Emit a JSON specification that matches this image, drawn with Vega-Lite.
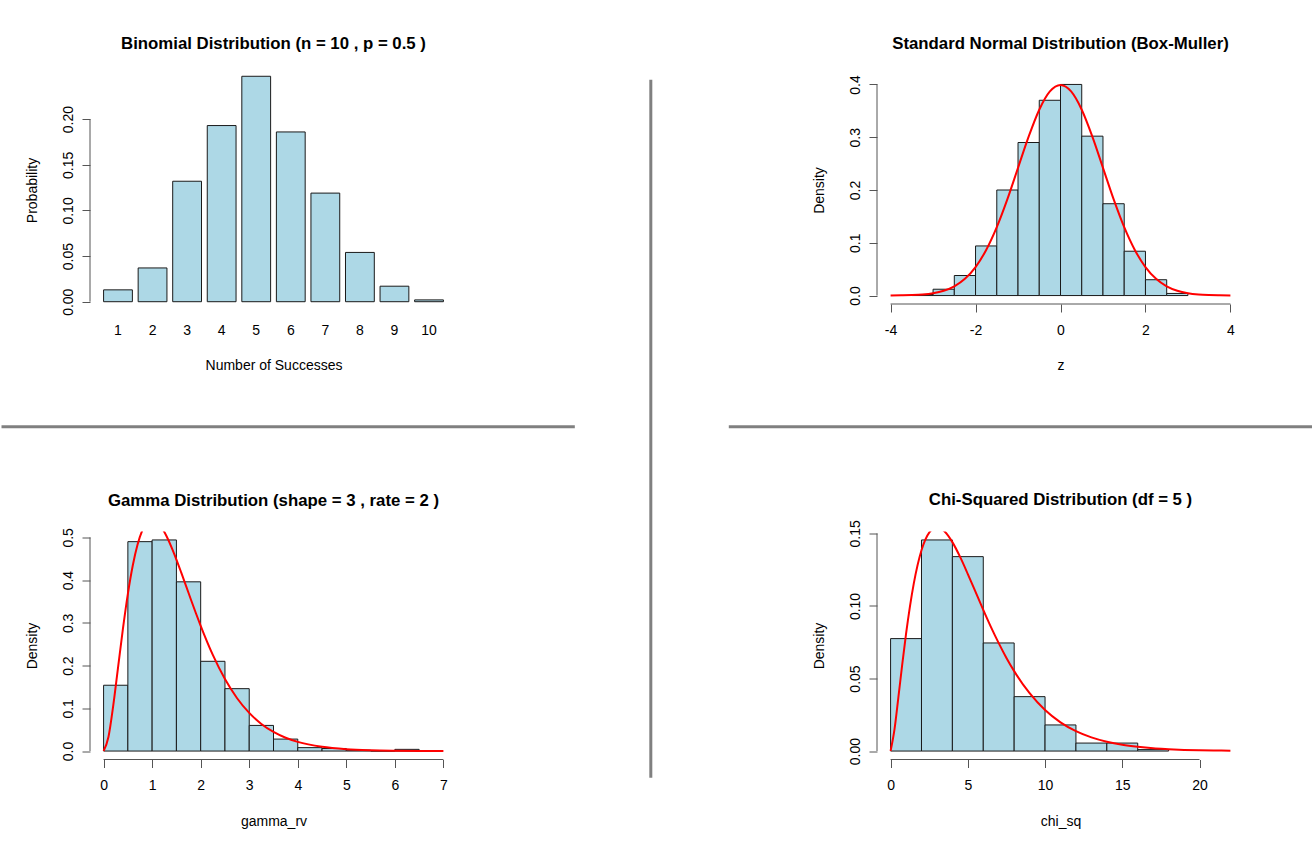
{
  "$schema": "https://vega.github.io/schema/vega-lite/v6.json",
  "background": "white",
  "padding": {"left": 0, "right": 0, "top": 35, "bottom": 12},
  "autosize": {"type": "pad"},
  "config": {
    "view": {"stroke": null},
    "font": "Liberation Sans",
    "axis": {
      "grid": false, "domain": false,
      "labelFont": "Liberation Sans", "labelFontSize": 14, "labelColor": "#000",
      "titleFont": "Liberation Sans", "titleFontSize": 14, "titleFontWeight": "normal", "titleColor": "#000",
      "tickColor": "#555", "tickSize": 8, "tickWidth": 1,
      "labelFlush": false, "labelOverlap": false
    },
    "axisX": {"labelPadding": 22, "labelBaseline": "alphabetic", "labelAngle": 0, "labelAlign": "center",
      "titleX": 183.5, "titleY": 65.5, "titleAlign": "center", "titleBaseline": "alphabetic", "titleAngle": 0},
    "axisY": {"labelAngle": 270, "labelAlign": "center", "labelBaseline": "alphabetic", "labelPadding": 10,
      "titleX": -54, "titleY": 114, "titleAngle": 270, "titleAlign": "center", "titleBaseline": "alphabetic"},
    "title": {"font": "Liberation Sans", "fontSize": 16.8, "fontWeight": "bold", "color": "#000",
      "frame": "group", "anchor": "middle", "baseline": "alphabetic"}
  },
  "columns": 2,
  "spacing": {"row": 227.5, "column": 420},
  "bounds": "flush",
  "align": "all",
  "concat": [
    {
      "width": 367, "height": 228,
      "title": {"text": "Binomial Distribution (n = 10 , p = 0.5 )", "offset": 23},
      "layer": [
        {
          "data": {"values": [
            {"k": 1, "p": 0.013}, {"k": 2, "p": 0.037}, {"k": 3, "p": 0.132}, {"k": 4, "p": 0.193},
            {"k": 5, "p": 0.247}, {"k": 6, "p": 0.186}, {"k": 7, "p": 0.119}, {"k": 8, "p": 0.054},
            {"k": 9, "p": 0.017}, {"k": 10, "p": 0.002}
          ]},
          "mark": {"type": "bar", "fill": "#ADD8E6", "stroke": "#1a1a1a", "strokeWidth": 1},
          "encoding": {
            "x": {"field": "k", "type": "ordinal",
              "scale": {"paddingInner": 0.1667, "paddingOuter": 0.393},
              "axis": {"title": "Number of Successes", "tickOpacity": 0}},
            "y": {"field": "p", "type": "quantitative",
              "scale": {"domain": [-0.0025, 0.2473], "nice": false, "zero": false},
              "axis": {"title": "Probability", "values": [0, 0.05, 0.1, 0.15, 0.2], "format": ".2f"}},
            "y2": {"datum": 0}
          }
        },
        {
          "data": {"values": [{}]},
          "mark": {"type": "rule", "color": "#555", "strokeWidth": 1},
          "encoding": {"x": {"value": 0}, "y": {"datum": 0}, "y2": {"datum": 0.2}}
        }
      ]
    },
    {
      "width": 367, "height": 228,
      "title": {"text": "Standard Normal Distribution (Box-Muller)", "offset": 21.5},
      "layer": [
        {
          "data": {"values": [
            {"b0": -3.5, "b1": -3.0, "d": 0.002}, {"b0": -3.0, "b1": -2.5, "d": 0.012},
            {"b0": -2.5, "b1": -2.0, "d": 0.038}, {"b0": -2.0, "b1": -1.5, "d": 0.094},
            {"b0": -1.5, "b1": -1.0, "d": 0.2}, {"b0": -1.0, "b1": -0.5, "d": 0.29},
            {"b0": -0.5, "b1": 0.0, "d": 0.37}, {"b0": 0.0, "b1": 0.5, "d": 0.4},
            {"b0": 0.5, "b1": 1.0, "d": 0.302}, {"b0": 1.0, "b1": 1.5, "d": 0.174},
            {"b0": 1.5, "b1": 2.0, "d": 0.084}, {"b0": 2.0, "b1": 2.5, "d": 0.03},
            {"b0": 2.5, "b1": 3.0, "d": 0.004}
          ]},
          "mark": {"type": "bar", "fill": "#ADD8E6", "stroke": "#1a1a1a", "strokeWidth": 1},
          "encoding": {
            "x": {"field": "b0", "type": "quantitative",
              "scale": {"domain": [-4.32, 4.32], "nice": false, "zero": false},
              "axis": {"title": "z", "values": [-4, -2, 0, 2, 4], "format": "d", "labelExpr": "replace(datum.label, '−', '-')"}},
            "x2": {"field": "b1"},
            "y": {"field": "d", "type": "quantitative",
              "scale": {"domain": [-0.016, 0.416], "nice": false, "zero": false},
              "axis": {"title": "Density", "values": [0, 0.1, 0.2, 0.3, 0.4], "format": ".1f"}},
            "y2": {"datum": 0}
          }
        },
        {
          "data": {"values": [
            {"x": -4, "y": 0.0001}, {"x": -3.75, "y": 0.0004}, {"x": -3.5, "y": 0.0009}, {"x": -3.25, "y": 0.002},
            {"x": -3, "y": 0.0044}, {"x": -2.75, "y": 0.0091}, {"x": -2.5, "y": 0.0175}, {"x": -2.25, "y": 0.0317},
            {"x": -2, "y": 0.054}, {"x": -1.75, "y": 0.0863}, {"x": -1.5, "y": 0.1295}, {"x": -1.25, "y": 0.1826},
            {"x": -1, "y": 0.242}, {"x": -0.75, "y": 0.3011}, {"x": -0.5, "y": 0.3521}, {"x": -0.25, "y": 0.3867},
            {"x": 0, "y": 0.3989}, {"x": 0.25, "y": 0.3867}, {"x": 0.5, "y": 0.3521}, {"x": 0.75, "y": 0.3011},
            {"x": 1, "y": 0.242}, {"x": 1.25, "y": 0.1826}, {"x": 1.5, "y": 0.1295}, {"x": 1.75, "y": 0.0863},
            {"x": 2, "y": 0.054}, {"x": 2.25, "y": 0.0317}, {"x": 2.5, "y": 0.0175}, {"x": 2.75, "y": 0.0091},
            {"x": 3, "y": 0.0044}, {"x": 3.25, "y": 0.002}, {"x": 3.5, "y": 0.0009}, {"x": 3.75, "y": 0.0004},
            {"x": 4, "y": 0.0001}
          ]},
          "mark": {"type": "line", "color": "#FF0000", "strokeWidth": 2, "clip": true, "interpolate": "monotone"},
          "encoding": {"x": {"field": "x", "type": "quantitative"}, "y": {"field": "y", "type": "quantitative"}}
        },
        {
          "data": {"values": [{}]},
          "mark": {"type": "rule", "color": "#555", "strokeWidth": 1},
          "encoding": {"x": {"datum": -4.32}, "y": {"datum": 0}, "y2": {"datum": 0.4}}
        },
        {
          "data": {"values": [{}]},
          "mark": {"type": "rule", "color": "#555", "strokeWidth": 1},
          "encoding": {"y": {"datum": -0.016}, "x": {"datum": -4}, "x2": {"datum": 4}}
        },
        {
          "data": {"values": [{}]},
          "mark": {"type": "rule", "color": "#808080", "strokeWidth": 3},
          "encoding": {"y": {"datum": -0.2487}, "x": {"datum": -24.931}, "x2": {"datum": -11.434}}
        },
        {
          "data": {"values": [{}]},
          "mark": {"type": "rule", "color": "#808080", "strokeWidth": 3},
          "encoding": {"y": {"datum": -0.2487}, "x": {"datum": -7.809}, "x2": {"datum": 5.956}}
        },
        {
          "data": {"values": [{}]},
          "mark": {"type": "rule", "color": "#808080", "strokeWidth": 3},
          "encoding": {"x": {"datum": -9.645}, "y": {"datum": 0.4088}, "y2": {"datum": -0.9137}}
        }
      ]
    },
    {
      "width": 367, "height": 228,
      "title": {"text": "Gamma Distribution (shape = 3 , rate = 2 )", "offset": 17.5},
      "layer": [
        {
          "data": {"values": [
            {"b0": 0.0, "b1": 0.5, "d": 0.154}, {"b0": 0.5, "b1": 1.0, "d": 0.49},
            {"b0": 1.0, "b1": 1.5, "d": 0.494}, {"b0": 1.5, "b1": 2.0, "d": 0.396},
            {"b0": 2.0, "b1": 2.5, "d": 0.21}, {"b0": 2.5, "b1": 3.0, "d": 0.146},
            {"b0": 3.0, "b1": 3.5, "d": 0.06}, {"b0": 3.5, "b1": 4.0, "d": 0.028},
            {"b0": 4.0, "b1": 4.5, "d": 0.008}, {"b0": 4.5, "b1": 5.0, "d": 0.006},
            {"b0": 5.0, "b1": 5.5, "d": 0.002}, {"b0": 5.5, "b1": 6.0, "d": 0.0},
            {"b0": 6.0, "b1": 6.5, "d": 0.004}
          ]},
          "mark": {"type": "bar", "fill": "#ADD8E6", "stroke": "#1a1a1a", "strokeWidth": 1},
          "encoding": {
            "x": {"field": "b0", "type": "quantitative",
              "scale": {"domain": [-0.28, 7.28], "nice": false, "zero": false},
              "axis": {"title": "gamma_rv", "values": [0, 1, 2, 3, 4, 5, 6, 7], "format": "d"}},
            "x2": {"field": "b1"},
            "y": {"field": "d", "type": "quantitative",
              "scale": {"domain": [-0.01976, 0.51376], "nice": false, "zero": false},
              "axis": {"title": "Density", "values": [0, 0.1, 0.2, 0.3, 0.4, 0.5], "format": ".1f"}},
            "y2": {"datum": 0}
          }
        },
        {
          "data": {"values": [
            {"x": 0, "y": 0}, {"x": 0.1, "y": 0.0327}, {"x": 0.2, "y": 0.1073}, {"x": 0.3, "y": 0.1976},
            {"x": 0.4, "y": 0.2876}, {"x": 0.5, "y": 0.3679}, {"x": 0.6, "y": 0.4337}, {"x": 0.7, "y": 0.4833},
            {"x": 0.8, "y": 0.5169}, {"x": 0.9, "y": 0.5356}, {"x": 1.0, "y": 0.5413}, {"x": 1.1, "y": 0.5363},
            {"x": 1.2, "y": 0.5225}, {"x": 1.3, "y": 0.502}, {"x": 1.4, "y": 0.4767}, {"x": 1.5, "y": 0.4481},
            {"x": 1.6, "y": 0.4175}, {"x": 1.7, "y": 0.3861}, {"x": 1.8, "y": 0.3541}, {"x": 1.9, "y": 0.323},
            {"x": 2.0, "y": 0.2931}, {"x": 2.25, "y": 0.225}, {"x": 2.5, "y": 0.1684}, {"x": 2.75, "y": 0.1236},
            {"x": 3.0, "y": 0.0892}, {"x": 3.25, "y": 0.0635}, {"x": 3.5, "y": 0.0447}, {"x": 3.75, "y": 0.0311},
            {"x": 4.0, "y": 0.0215}, {"x": 4.5, "y": 0.01}, {"x": 5.0, "y": 0.0045}, {"x": 5.5, "y": 0.002},
            {"x": 6.0, "y": 0.0009}, {"x": 6.5, "y": 0.0004}, {"x": 7.0, "y": 0.0002}
          ]},
          "mark": {"type": "line", "color": "#FF0000", "strokeWidth": 2, "clip": true, "interpolate": "monotone"},
          "encoding": {"x": {"field": "x", "type": "quantitative"}, "y": {"field": "y", "type": "quantitative"}}
        },
        {
          "data": {"values": [{}]},
          "mark": {"type": "rule", "color": "#555", "strokeWidth": 1},
          "encoding": {"x": {"datum": -0.28}, "y": {"datum": 0}, "y2": {"datum": 0.5}}
        },
        {
          "data": {"values": [{}]},
          "mark": {"type": "rule", "color": "#555", "strokeWidth": 1},
          "encoding": {"y": {"datum": -0.01976}, "x": {"datum": 0}, "x2": {"datum": 7}}
        }
      ]
    },
    {
      "width": 367, "height": 228,
      "title": {"text": "Chi-Squared Distribution (df = 5 )", "offset": 11},
      "layer": [
        {
          "data": {"values": [
            {"b0": 0, "b1": 2, "d": 0.0775}, {"b0": 2, "b1": 4, "d": 0.1455},
            {"b0": 4, "b1": 6, "d": 0.134}, {"b0": 6, "b1": 8, "d": 0.0745},
            {"b0": 8, "b1": 10, "d": 0.0375}, {"b0": 10, "b1": 12, "d": 0.018},
            {"b0": 12, "b1": 14, "d": 0.0055}, {"b0": 14, "b1": 16, "d": 0.0055},
            {"b0": 16, "b1": 18, "d": 0.001}
          ]},
          "mark": {"type": "bar", "fill": "#ADD8E6", "stroke": "#1a1a1a", "strokeWidth": 1},
          "encoding": {
            "x": {"field": "b0", "type": "quantitative",
              "scale": {"domain": [-0.88, 22.88], "nice": false, "zero": false},
              "axis": {"title": "chi_sq", "values": [0, 5, 10, 15, 20], "format": "d"}},
            "x2": {"field": "b1"},
            "y": {"field": "d", "type": "quantitative",
              "scale": {"domain": [-0.00582, 0.15132], "nice": false, "zero": false},
              "axis": {"title": "Density", "values": [0, 0.05, 0.1, 0.15], "format": ".2f"}},
            "y2": {"datum": 0}
          }
        },
        {
          "data": {"values": [
            {"x": 0, "y": 0}, {"x": 0.25, "y": 0.0147}, {"x": 0.5, "y": 0.0366}, {"x": 0.75, "y": 0.0594},
            {"x": 1, "y": 0.0807}, {"x": 1.5, "y": 0.1154}, {"x": 2, "y": 0.1384}, {"x": 2.5, "y": 0.1506},
            {"x": 3, "y": 0.1542}, {"x": 3.5, "y": 0.1513}, {"x": 4, "y": 0.144}, {"x": 4.5, "y": 0.1338},
            {"x": 5, "y": 0.122}, {"x": 5.5, "y": 0.1097}, {"x": 6, "y": 0.0973}, {"x": 6.5, "y": 0.0854},
            {"x": 7, "y": 0.0744}, {"x": 7.5, "y": 0.0642}, {"x": 8, "y": 0.0551}, {"x": 9, "y": 0.0399},
            {"x": 10, "y": 0.0283}, {"x": 11, "y": 0.0198}, {"x": 12, "y": 0.0137}, {"x": 13, "y": 0.0094},
            {"x": 14, "y": 0.0064}, {"x": 15, "y": 0.0043}, {"x": 16, "y": 0.0029}, {"x": 17, "y": 0.0019},
            {"x": 18, "y": 0.0013}, {"x": 19, "y": 0.0008}, {"x": 20, "y": 0.0005}, {"x": 21, "y": 0.0004},
            {"x": 22, "y": 0.0002}
          ]},
          "mark": {"type": "line", "color": "#FF0000", "strokeWidth": 2, "clip": true, "interpolate": "monotone"},
          "encoding": {"x": {"field": "x", "type": "quantitative"}, "y": {"field": "y", "type": "quantitative"}}
        },
        {
          "data": {"values": [{}]},
          "mark": {"type": "rule", "color": "#555", "strokeWidth": 1},
          "encoding": {"x": {"datum": -0.88}, "y": {"datum": 0}, "y2": {"datum": 0.15}}
        },
        {
          "data": {"values": [{}]},
          "mark": {"type": "rule", "color": "#555", "strokeWidth": 1},
          "encoding": {"y": {"datum": -0.00582}, "x": {"datum": 0}, "x2": {"datum": 20}}
        }
      ]
    }
  ]
}
